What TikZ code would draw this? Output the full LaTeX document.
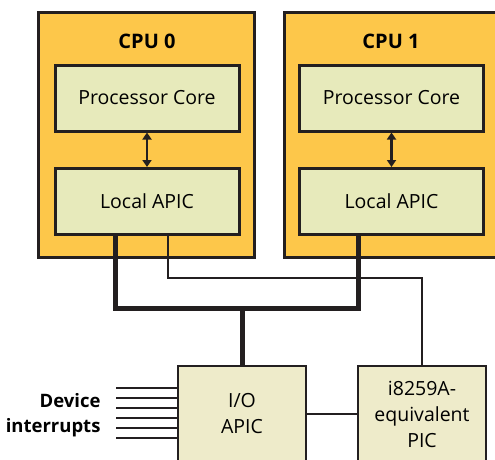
\documentclass[tikz,border=0pt]{standalone}
\usepackage{fontspec}
\setmainfont{Open Sans}
\usepackage{tikz}
\usetikzlibrary{positioning,calc,arrows.meta}
\definecolor{cpuorange}{HTML}{FDC74A}
\definecolor{coregreen}{HTML}{E7EABB}
\definecolor{chipbeige}{HTML}{EEEBCA}
\definecolor{inkdark}{HTML}{231F20}
\tikzset{
    cpubox/.style={draw=inkdark, line width=3pt, fill=cpuorange, minimum width=216pt, minimum height=245pt},
    unitbox/.style={draw=inkdark, line width=3pt, fill=coregreen, minimum width=184pt, minimum height=66pt, font=\fontsize{19.5}{22}\selectfont},
    chipbox/.style={draw=inkdark, line width=2.5pt, fill=chipbeige, minimum width=128pt, minimum height=96pt, align=center, font=\fontsize{19.5}{26}\selectfont},
    bus/.style={draw=inkdark, line width=5pt},
    wire/.style={draw=inkdark, line width=2pt},
    updown/.style={draw=inkdark, line width=2.5pt, {Triangle[width=9pt,length=7pt]}-{Triangle[width=9pt,length=7pt]}},
}
\begin{document}
\begin{tikzpicture}[x=1pt, y=-1pt]
    \useasboundingbox (0,0) rectangle (495,459);
    \clip (0,0) rectangle (495,459);
    % CPUs
    \node[cpubox] (cpu0) at (146,134.5) {};
    \node[cpubox] (cpu1) at (392,134.5) {};
    \node[font=\bfseries\fontsize{20}{22}\selectfont] (cpu0label) at (147,41) {CPU 0};
    \node[font=\bfseries\fontsize{20}{22}\selectfont] (cpu1label) at (391,41) {CPU 1};
    \node[unitbox] (core0) at (147,98) {Processor Core};
    \node[unitbox] (lapic0) at (147,201.5) {Local APIC};
    \node[unitbox] (core1) at (391.5,98) {Processor Core};
    \node[unitbox] (lapic1) at (391.5,201.5) {Local APIC};
    \draw[updown] (core0) -- (lapic0);
    \draw[updown] (core1) -- (lapic1);

    % Chipset
    \node[chipbox] (ioapic) at (242,414) {I/O\\APIC};
    \node[chipbox] (pic) at (422,414) {i8259A-\\equivalent\\PIC};

    % Buses
    \draw[wire] ([xshift=21pt]lapic0.south) -- ++(0,42) -| (pic.north);
    \draw[bus] ([xshift=-32pt]lapic0.south) -- ++(0,72) coordinate (busl) -| ([xshift=-33.5pt]lapic1.south);
    \draw[bus] (ioapic.north) -- (ioapic.north |- busl);
    \draw[wire] (ioapic.east) -- (pic.west);

    % Device interrupts
    \foreach \i in {0,...,5}
        \draw[wire] (ioapic.west |- 0,{388+10*\i}) -- ++(-61,0);
    \node[font=\bfseries\fontsize{18.5}{25}\selectfont, align=right, anchor=east] (irq) at (104,415) {Device\\interrupts};
\end{tikzpicture}
\end{document}
